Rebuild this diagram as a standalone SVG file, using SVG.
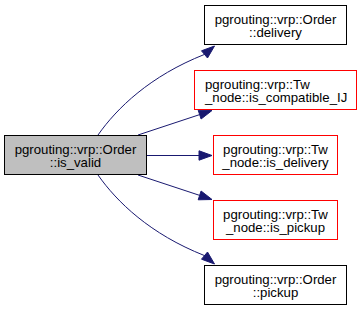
<svg xmlns="http://www.w3.org/2000/svg" width="363" height="312" viewBox="0 0 363 312">
  <style>
    .node rect { stroke-width: 1; }
    .plain rect { fill: #ffffff; stroke: #000000; }
    .undoc rect { fill: #ffffff; stroke: #ff0000; }
    .root rect { fill: #bfbfbf; stroke: #000000; }
    text { font-family: "Liberation Sans", Arial, Helvetica, sans-serif; font-size: 13.2px; fill: #000000; }
    .c { text-anchor: middle; }
    .l { text-anchor: start; }
    .edges path { fill: none; stroke: #191970; stroke-width: 1; }
    .edges polygon { fill: #191970; stroke: #191970; stroke-width: 1; }
  </style>
  <rect width="363" height="312" fill="#ffffff"/>

  <!-- calls from is_valid -->
  <g id="edges" class="edges">
    <path d="M98,135 C117,108 150,76 204.5,54.4"/>
    <polygon points="201.5,50.8 214.5,46 207.5,58"/>

    <path d="M138,135 L199.7,114.6"/>
    <polygon points="198.2,110.2 212,110.5 201.1,119"/>

    <path d="M147,155.5 L199,155.5"/>
    <polygon points="199,150.8 212,155.5 199,160.2"/>

    <path d="M138,175 L199.7,195.4"/>
    <polygon points="198.2,199.8 212,199.5 201.1,191"/>

    <path d="M98,175 C117,202 150,234 204.5,255.6"/>
    <polygon points="201.5,259.2 214.5,264 207.5,252"/>
  </g>

  <g id="node_is_valid" class="node root">
    <rect x="4.5" y="135.5" width="142" height="39"/>
    <text class="c" x="75.5" y="153.5">pgrouting::vrp::Order</text>
    <text class="c" x="75.5" y="167">::is_valid</text>
  </g>

  <g id="node_delivery" class="node plain">
    <rect x="204.5" y="5.5" width="142" height="39"/>
    <text class="c" x="275.5" y="23.5">pgrouting::vrp::Order</text>
    <text class="c" x="275.5" y="37">::delivery</text>
  </g>

  <g id="node_is_compatible_IJ" class="node undoc">
    <rect x="194.5" y="70.5" width="162" height="39"/>
    <text class="l" x="205" y="88.5">pgrouting::vrp::Tw</text>
    <text class="l" x="205" y="102">_node::is_compatible_IJ</text>
  </g>

  <g id="node_is_delivery" class="node undoc">
    <rect x="213.5" y="135.5" width="124" height="39"/>
    <text class="c" x="275.5" y="153.5">pgrouting::vrp::Tw</text>
    <text class="c" x="275.5" y="167">_node::is_delivery</text>
  </g>

  <g id="node_is_pickup" class="node undoc">
    <rect x="213.5" y="200.5" width="124" height="39"/>
    <text class="c" x="275.5" y="218.5">pgrouting::vrp::Tw</text>
    <text class="c" x="275.5" y="232">_node::is_pickup</text>
  </g>

  <g id="node_pickup" class="node plain">
    <rect x="204.5" y="265.5" width="142" height="39"/>
    <text class="c" x="275.5" y="283.5">pgrouting::vrp::Order</text>
    <text class="c" x="275.5" y="297">::pickup</text>
  </g>
</svg>
